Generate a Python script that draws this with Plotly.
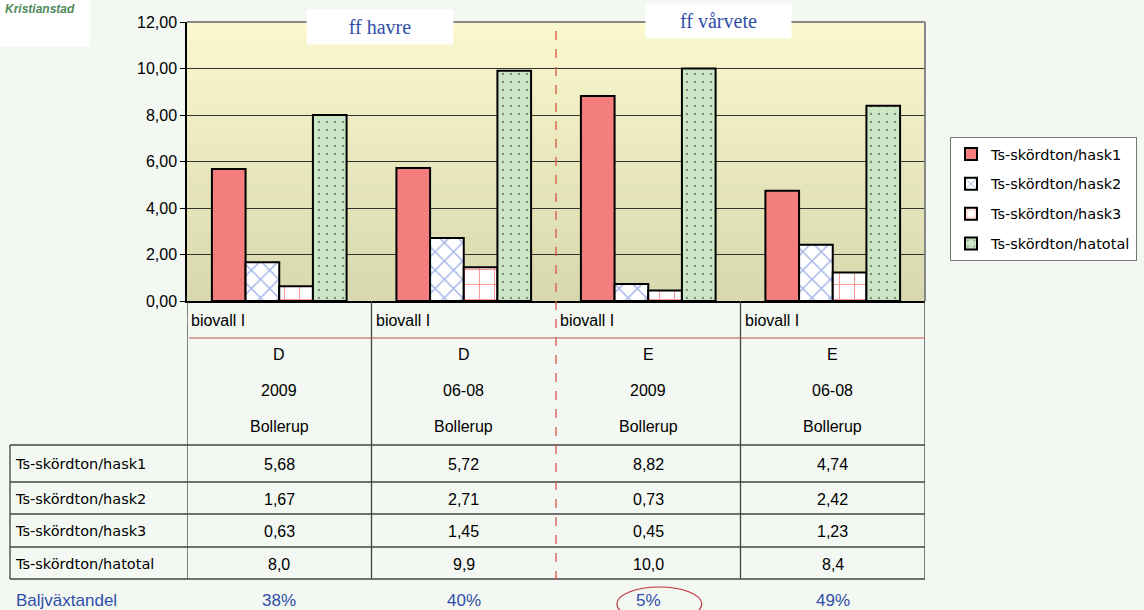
import plotly.graph_objects as go

# ---------------- data ----------------
categories = ["D 2009", "D 06-08", "E 2009", "E 06-08"]
row_biovall = ["biovall I", "biovall I", "biovall I", "biovall I"]
row_fert = ["D", "D", "E", "E"]
row_year = ["2009", "06-08", "2009", "06-08"]
row_place = ["Bollerup", "Bollerup", "Bollerup", "Bollerup"]
series_names = ["Ts-skördton/hask1", "Ts-skördton/hask2",
                "Ts-skördton/hask3", "Ts-skördton/hatotal"]
hask1 = [5.68, 5.72, 8.82, 4.74]
hask2 = [1.67, 2.71, 0.73, 2.42]
hask3 = [0.63, 1.45, 0.45, 1.23]
hatotal = [8.0, 9.9, 10.0, 8.4]
baljvaxtandel = ["38%", "40%", "5%", "49%"]
y_ticks = [0, 2, 4, 6, 8, 10, 12]

W, H = 1144, 610
def py(p):
    return 1 - p / H
def px(p):
    return p / W

PAGE_BG = "#F3F8F2"
BLUE_TXT = "#2F4EA8"
FONT = "Liberation Sans, Arial, sans-serif"
WIDE = "DejaVu Sans, sans-serif"

fig = go.Figure()
styles = [
    dict(color="#F47E7E", pattern=None),
    dict(color="white", pattern=dict(shape="x", fgcolor="#4A6CD0", size=13, solidity=0.22)),
    dict(color="white", pattern=dict(shape="+", fgcolor="#FF3030", size=15, solidity=0.14)),
    dict(color="#CDE6C6", pattern=dict(shape=".", fgcolor="#333333", size=8, solidity=0.08)),
]
for i, (name, vals) in enumerate(zip(series_names, [hask1, hask2, hask3, hatotal])):
    m = dict(color=styles[i]["color"], line=dict(color="black", width=2))
    if styles[i]["pattern"]:
        m["pattern"] = styles[i]["pattern"]
    fig.add_trace(go.Bar(x=categories, y=vals, name=name, marker=m,
                         legendgroup=f"g{i}", hoverinfo="skip"))

shapes = []
# gradient background of plot area
N = 40
top = (250, 248, 204)
bot = (216, 216, 174)
for k in range(N):
    t = k / (N - 1)
    c = tuple(int(round(bot[j] + (top[j] - bot[j]) * t)) for j in range(3))
    shapes.append(dict(type="rect", xref="x domain", yref="y domain",
                       x0=0, x1=1, y0=k / N, y1=(k + 1) / N + 0.002,
                       fillcolor=f"rgb{c}", line=dict(width=0), layer="below"))
# plot top/right border
shapes.append(dict(type="line", xref="x domain", yref="y domain", x0=0, x1=1, y0=1, y1=1,
                   line=dict(color="#888888", width=2)))
shapes.append(dict(type="line", xref="x domain", yref="y domain", x0=1, x1=1, y0=0, y1=1,
                   line=dict(color="#888888", width=2)))

# table geometry (paper y positions in px)
y_axis_bottom = 301
y_red_line = 338
y_table_top = 445
row_lines = [482, 514, 547]
y_table_bottom = 579
# vertical dividers
for xv in [-0.5, 0.5, 2.5, 3.5]:
    shapes.append(dict(type="line", xref="x", yref="paper", x0=xv, x1=xv,
                       y0=py(y_table_bottom), y1=py(y_axis_bottom),
                       line=dict(color="#444444", width=1.3)))
# left border of label column
shapes.append(dict(type="line", xref="paper", yref="paper", x0=px(10), x1=px(10),
                   y0=py(y_table_bottom), y1=py(y_table_top), line=dict(color="#444444", width=1.3)))
# horizontal lines
shapes.append(dict(type="line", xref="x", yref="paper", x0=-0.49, x1=3.5,
                   y0=py(y_red_line), y1=py(y_red_line), line=dict(color="#C0504D", width=1)))
for yl in [y_table_top] + row_lines + [y_table_bottom]:
    shapes.append(dict(type="line", xref="paper", yref="paper", x0=px(10), x1=px(187),
                       y0=py(yl), y1=py(yl), line=dict(color="#444444", width=1.3)))
    shapes.append(dict(type="line", xref="x", yref="paper", x0=-0.5, x1=3.5,
                       y0=py(yl), y1=py(yl), line=dict(color="#444444", width=1.3)))
# red dashed separator
shapes.append(dict(type="line", xref="x", yref="paper", x0=1.5, x1=1.5,
                   y0=py(580), y1=py(22), line=dict(color="#D9544F", width=1.3, dash="dash")))
# ellipse around 5%
shapes.append(dict(type="circle", xref="x", yref="paper", x0=1.83, x1=2.29,
                   y0=py(621), y1=py(587), line=dict(color="#C0303A", width=1.2)))
# logo box
shapes.append(dict(type="rect", xref="paper", yref="paper", x0=0, x1=px(90), y0=py(47), y1=1,
                   fillcolor="white", line=dict(width=0), layer="below"))

ann = []
tf = dict(family=FONT, size=16, color="black")
def A(**kw):
    d = dict(showarrow=False, xanchor="center", yanchor="middle")
    d.update(kw)
    ann.append(d)

for i, c in enumerate(categories):
    A(x=i - 0.5, y=py(320), xref="x", yref="paper", text=row_biovall[i],
      xanchor="left", xshift=2, font=tf)
    for yy, rowvals in [(354, row_fert), (390, row_year), (426, row_place)]:
        A(x=c, y=py(yy), xref="x", yref="paper", text=rowvals[i], font=tf)
    vals = [f"{hask1[i]:.2f}".replace(".", ","), f"{hask2[i]:.2f}".replace(".", ","),
            f"{hask3[i]:.2f}".replace(".", ","), f"{hatotal[i]:.1f}".replace(".", ",")]
    for yy, v in zip([464, 499, 531, 564], vals):
        A(x=c, y=py(yy), xref="x", yref="paper", text=v, font=tf)
    A(x=c, y=py(600), xref="x", yref="paper", text=baljvaxtandel[i],
      font=dict(family=FONT, size=17, color=BLUE_TXT))
for yy, nm in zip([464, 499, 531, 564], series_names):
    A(x=px(13), y=py(yy), xref="paper", yref="paper", text=nm, xanchor="left",
      font=dict(family=WIDE, size=14.5, color="black"))
A(x=px(14), y=py(600), xref="paper", yref="paper", text="Baljväxtandel",
  xanchor="left", font=dict(family=FONT, size=17, color=BLUE_TXT))
# header boxes
A(x=px(380), y=py(27), xref="paper", yref="paper", text="ff havre",
  bgcolor="white", width=144, height=32,
  font=dict(family="Liberation Serif, serif", size=20, color=BLUE_TXT))
A(x=px(718), y=py(21), xref="paper", yref="paper", text="ff vårvete",
  bgcolor="white", width=143, height=32,
  font=dict(family="Liberation Serif, serif", size=20, color=BLUE_TXT))
# logo
A(x=px(3), y=py(9), xref="paper", yref="paper", text="<b><i>Kristianstad</i></b>",
  xanchor="left", font=dict(family=FONT, size=12, color="#4F8A5C"))

fig.update_layout(
    width=W, height=H,
    margin=dict(l=0, r=0, t=0, b=0, autoexpand=False),
    paper_bgcolor=PAGE_BG,
    plot_bgcolor="#E8E6BE",
    barmode="group", bargap=0.27, bargroupgap=0,
    separators=", ",
    font=dict(family=FONT, size=16, color="black"),
    xaxis=dict(domain=[px(187), px(925)], range=[-0.5, 3.5], showticklabels=False,
               showgrid=False, showline=True, linecolor="black", linewidth=1.5,
               ticks="", fixedrange=True, automargin=False),
    yaxis=dict(domain=[py(301), py(22)], range=[0, 12], tickvals=y_ticks,
               tickformat=".2f", showgrid=True, gridcolor="#333333", gridwidth=1,
               showline=True, linecolor="black", linewidth=1.5, ticks="outside",
               ticklen=5, tickcolor="black", tickfont=dict(size=16), zeroline=False,
               automargin=False),
    legend=dict(x=px(950), y=py(137), xanchor="left", yanchor="top",
                bgcolor="white", bordercolor="#777777", borderwidth=1,
                font=dict(family=WIDE, size=14.5), tracegroupgap=8,
                itemwidth=30),
    shapes=shapes,
    annotations=ann,
)

fig.write_html("out.html", config={"displayModeBar": False},
               post_script="document.body.style.margin='0';")
